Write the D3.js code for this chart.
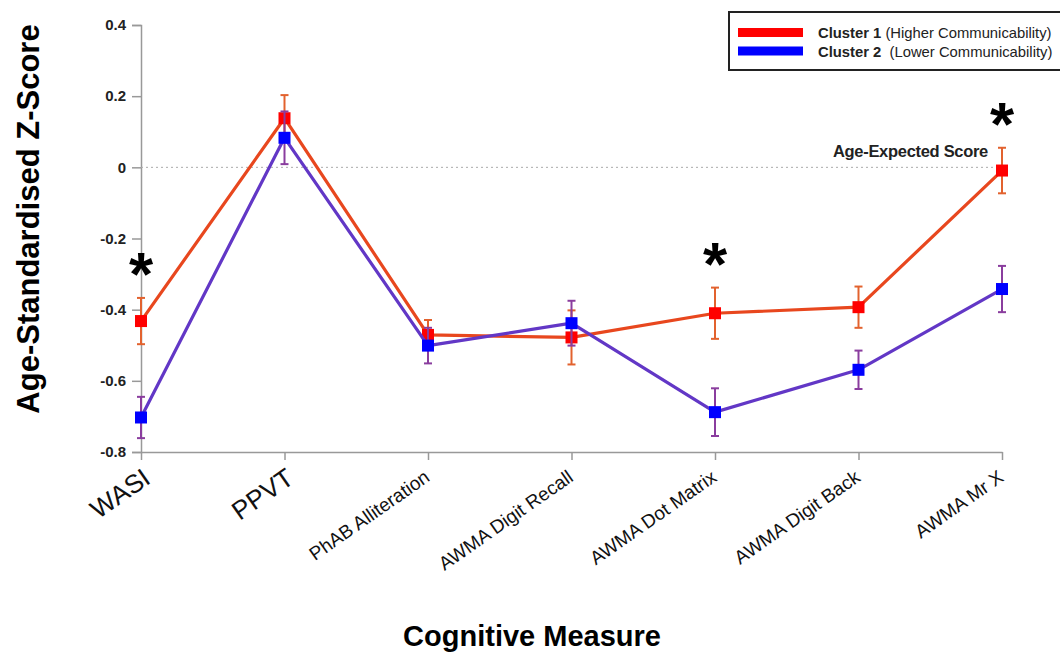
<!DOCTYPE html>
<html>
<head>
<meta charset="utf-8">
<script src="https://cdn.jsdelivr.net/npm/d3@7"></script>
<style>
  html, body { margin: 0; padding: 0; background: #fff; overflow: hidden; }
  svg { display: block; font-family: Arial, "Liberation Sans", Helvetica, sans-serif; }
</style>
</head>
<body>
<svg id="chart" width="1060" height="653"></svg>
<script>
// Cognitive measures on the x axis
const categories = ["WASI", "PPVT", "PhAB Alliteration", "AWMA Digit Recall",
                    "AWMA Dot Matrix", "AWMA Digit Back", "AWMA Mr X"];
// Mean age-standardised z-scores and standard errors per cluster
const cluster1 = [-0.432, 0.138, -0.471, -0.478, -0.410, -0.393, -0.009];
const cluster1Err = [0.065, 0.065, 0.042, 0.076, 0.072, 0.058, 0.064];
const cluster2 = [-0.703, 0.083, -0.501, -0.438, -0.688, -0.569, -0.342];
const cluster2Err = [0.058, 0.074, 0.050, 0.063, 0.067, 0.054, 0.065];
// Measures where the clusters differ significantly
const significant = ["WASI", "AWMA Dot Matrix", "AWMA Mr X"];
const yTicks = [0.4, 0.2, 0, -0.2, -0.4, -0.6, -0.8];
const bigLabels = ["WASI", "PPVT"];

const svg = d3.select("#chart");

const x = d3.scalePoint().domain(categories).range([141, 1002]);
const y = d3.scaleLinear().domain([-0.8, 0.4]).range([452, 25]);

const fmt = v => (v === 0 ? "0" : d3.format(".1f")(v).replace("−", "-"));

// Y axis
const yAxis = svg.append("g")
  .attr("transform", `translate(${x(categories[0])},0)`)
  .call(d3.axisLeft(y).tickValues(yTicks).tickFormat(fmt).tickSize(9).tickPadding(6));
yAxis.select(".domain").attr("stroke", "#999").attr("stroke-width", 1.5);
yAxis.selectAll(".tick line").attr("stroke", "#999").attr("stroke-width", 1.5);
yAxis.selectAll(".tick text")
  .attr("font-size", 15).attr("font-weight", "bold").attr("fill", "#222")
  .attr("font-family", "Arial, 'Liberation Sans', sans-serif");

// X axis
const xAxis = svg.append("g")
  .attr("transform", `translate(0,${y(-0.8)})`)
  .call(d3.axisBottom(x).tickSize(8).tickSizeOuter(0).tickFormat(""));
xAxis.select(".domain").attr("stroke", "#999").attr("stroke-width", 1.5);
xAxis.selectAll(".tick line").attr("stroke", "#999").attr("stroke-width", 1.5);

// Rotated category labels
svg.append("g").selectAll("text")
  .data(categories)
  .join("text")
  .attr("transform", d => bigLabels.includes(d)
      ? `translate(${x(d) + 11},${y(-0.8) + 30}) rotate(-35)`
      : `translate(${x(d) + 3},${y(-0.8) + 28}) rotate(-35)`)
  .attr("text-anchor", "end")
  .attr("font-size", d => bigLabels.includes(d) ? 26 : 19)
  .attr("fill", "#111")
  .text(d => d);

// Age-expected reference line at z = 0
svg.append("line")
  .attr("x1", x(categories[0])).attr("x2", x(categories[categories.length - 1]))
  .attr("y1", y(0)).attr("y2", y(0))
  .attr("stroke", "#aaa").attr("stroke-width", 1).attr("stroke-dasharray", "2,3");
svg.append("text")
  .attr("x", 988).attr("y", y(0) - 10)
  .attr("text-anchor", "end")
  .attr("font-size", 16.5).attr("font-weight", "bold").attr("fill", "#222")
  .attr("letter-spacing", -0.3)
  .text("Age-Expected Score");

// One series: connecting line, error bars, square markers
function drawSeries(values, errs, lineColor, errColor, markerColor) {
  const pts = categories.map((c, i) => ({ c, v: values[i], e: errs[i] }));
  const g = svg.append("g");
  g.append("path")
    .datum(pts)
    .attr("fill", "none")
    .attr("stroke", lineColor)
    .attr("stroke-width", 3.2)
    .attr("stroke-linejoin", "round")
    .attr("d", d3.line().x(d => x(d.c)).y(d => y(d.v)));
  const eb = g.append("g").selectAll("g").data(pts).join("g")
    .attr("stroke", errColor).attr("stroke-width", 2);
  eb.append("line")
    .attr("x1", d => x(d.c)).attr("x2", d => x(d.c))
    .attr("y1", d => y(d.v + d.e)).attr("y2", d => y(d.v - d.e));
  eb.append("line")
    .attr("x1", d => x(d.c) - 4).attr("x2", d => x(d.c) + 4)
    .attr("y1", d => y(d.v + d.e)).attr("y2", d => y(d.v + d.e));
  eb.append("line")
    .attr("x1", d => x(d.c) - 4).attr("x2", d => x(d.c) + 4)
    .attr("y1", d => y(d.v - d.e)).attr("y2", d => y(d.v - d.e));
  const s = 12;
  g.append("g").selectAll("rect").data(pts).join("rect")
    .attr("x", d => x(d.c) - s / 2).attr("y", d => y(d.v) - s / 2)
    .attr("width", s).attr("height", s)
    .attr("fill", markerColor);
}

drawSeries(cluster1, cluster1Err, "#E8471E", "#E2622E", "#FF0000");
drawSeries(cluster2, cluster2Err, "#6237C6", "#8A3D9E", "#0000FF");

// Significance asterisks above the upper error bar
svg.append("g").selectAll("text")
  .data(significant)
  .join("text")
  .attr("x", d => x(d))
  .attr("y", d => {
    const i = categories.indexOf(d);
    const top = Math.max(cluster1[i] + cluster1Err[i], cluster2[i] + cluster2Err[i]);
    return y(top) - 3;
  })
  .attr("text-anchor", "middle")
  .attr("font-size", 62).attr("font-weight", "bold").attr("fill", "#000")
  .text("*");

// Axis titles
svg.append("text")
  .attr("transform", `translate(39,219) rotate(-90)`)
  .attr("text-anchor", "middle")
  .attr("font-size", 31).attr("font-weight", "bold").attr("fill", "#000")
  .text("Age-Standardised Z-Score");
svg.append("text")
  .attr("x", 532).attr("y", 646)
  .attr("text-anchor", "middle")
  .attr("font-size", 29).attr("font-weight", "bold").attr("fill", "#000")
  .text("Cognitive Measure");

// Legend
const legend = svg.append("g");
legend.append("rect")
  .attr("x", 729).attr("y", 12).attr("width", 400).attr("height", 58)
  .attr("fill", "#fff").attr("stroke", "#222").attr("stroke-width", 2);
const legendItems = [
  { name: "Cluster 1", note: " (Higher Communicability)", color: "#FF0000" },
  { name: "Cluster 2", note: "  (Lower Communicability)", color: "#0000FF" }
];
legendItems.forEach((d, i) => {
  const cy = 32.5 + i * 18.5;
  legend.append("rect")
    .attr("x", 738).attr("y", cy - 4.5).attr("width", 65).attr("height", 9)
    .attr("fill", d.color);
  const t = legend.append("text")
    .attr("x", 818).attr("y", cy + 5.5)
    .attr("font-size", 14.8).attr("fill", "#222")
    .attr("xml:space", "preserve");
  t.append("tspan").attr("font-weight", "bold").text(d.name);
  t.append("tspan").text(d.note);
});
</script>
</body>
</html>
